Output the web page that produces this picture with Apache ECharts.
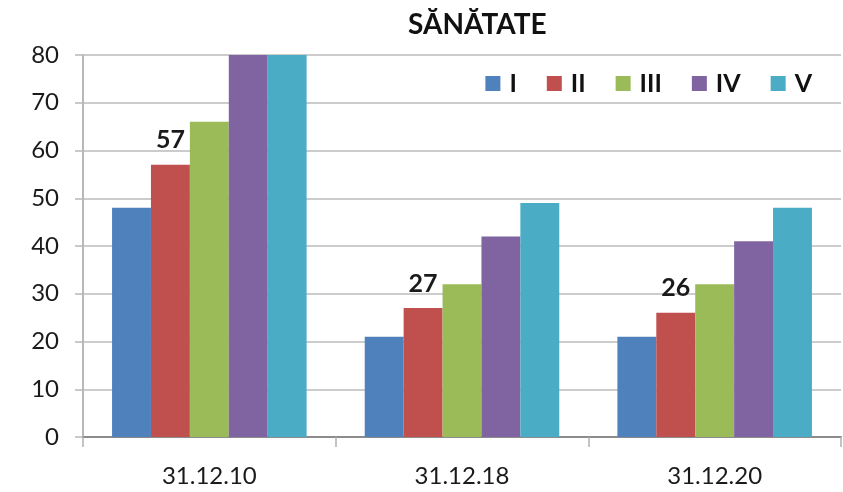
<!DOCTYPE html>
<html>
<head>
<meta charset="utf-8">
<title>SĂNĂTATE</title>
<script src="https://cdn.jsdelivr.net/npm/echarts@6/dist/echarts.min.js"></script>
<style>
  html, body { margin: 0; padding: 0; background: #fff; }
  #chart { width: 843px; height: 492px; }
</style>
</head>
<body>
<div id="chart"></div>
<script>
// data
const categories = ['31.12.10', '31.12.18', '31.12.20'];
const seriesNames = ['I', 'II', 'III', 'IV', 'V'];
const seriesColors = ['#4F81BD', '#C0504D', '#9BBB59', '#8064A2', '#4BACC6'];
const valuesI = [48, 21, 21];
const valuesII = [57, 27, 26];
const valuesIII = [66, 32, 32];
const valuesIV = [84, 42, 41];   // first bar runs past the top of the axis
const valuesV = [88, 49, 48];    // same here
const yTicks = [0, 10, 20, 30, 40, 50, 60, 70, 80];

const allValues = [valuesI, valuesII, valuesIII, valuesIV, valuesV];
const fontName = 'Lato, "Noto Sans", sans-serif';

function makeSeries() {
  return seriesNames.map((name, i) => ({
    name: name,
    type: 'bar',
    data: allValues[i],
    barGap: '0%',
    barCategoryGap: '23%',
    clip: true,
    itemStyle: { color: seriesColors[i] },
    label: {
      show: name === 'II',
      position: 'top',
      distance: 12,
      color: '#1a1a1a',
      fontFamily: fontName,
      fontWeight: 'bold',
      fontSize: 25
    }
  }));
}

var chart = echarts.init(document.getElementById('chart'));

var option = {
  animation: false,
  color: seriesColors,
  title: {
    text: 'SĂNĂTATE',
    left: 403,
    top: 6,
    textStyle: {
      fontFamily: fontName,
      fontWeight: 'bold',
      fontSize: 28,
      color: '#111'
    }
  },
  legend: {
    data: seriesNames,
    right: 26,
    top: 66,
    itemWidth: 15,
    itemHeight: 15,
    itemGap: 30,
    icon: 'rect',
    textStyle: {
      fontFamily: fontName,
      fontWeight: 'bold',
      fontSize: 25,
      color: '#111',
      padding: [0, 0, 0, 4]
    }
  },
  grid: {
    left: 83,
    right: 2,
    top: 55,
    bottom: 55
  },
  xAxis: {
    type: 'category',
    data: categories,
    axisLine: { lineStyle: { color: '#8c8c8c', width: 2 } },
    axisTick: { show: true, length: 10, lineStyle: { color: '#b0b0b0', width: 1.5 } },
    axisLabel: {
      margin: 27,
      fontFamily: fontName,
      fontSize: 24,
      color: '#1a1a1a'
    }
  },
  yAxis: {
    type: 'value',
    min: yTicks[0],
    max: yTicks[yTicks.length - 1],
    interval: 10,
    axisLine: { show: true, lineStyle: { color: '#b8b8b8', width: 2 } },
    axisTick: { show: true, length: 8, lineStyle: { color: '#b8b8b8', width: 1.5 } },
    axisLabel: {
      margin: 24,
      fontFamily: fontName,
      fontSize: 24,
      color: '#1a1a1a'
    },
    splitLine: { lineStyle: { color: '#cccccc', width: 2 } }
  },
  series: makeSeries()
};

chart.setOption(option);
</script>
</body>
</html>
